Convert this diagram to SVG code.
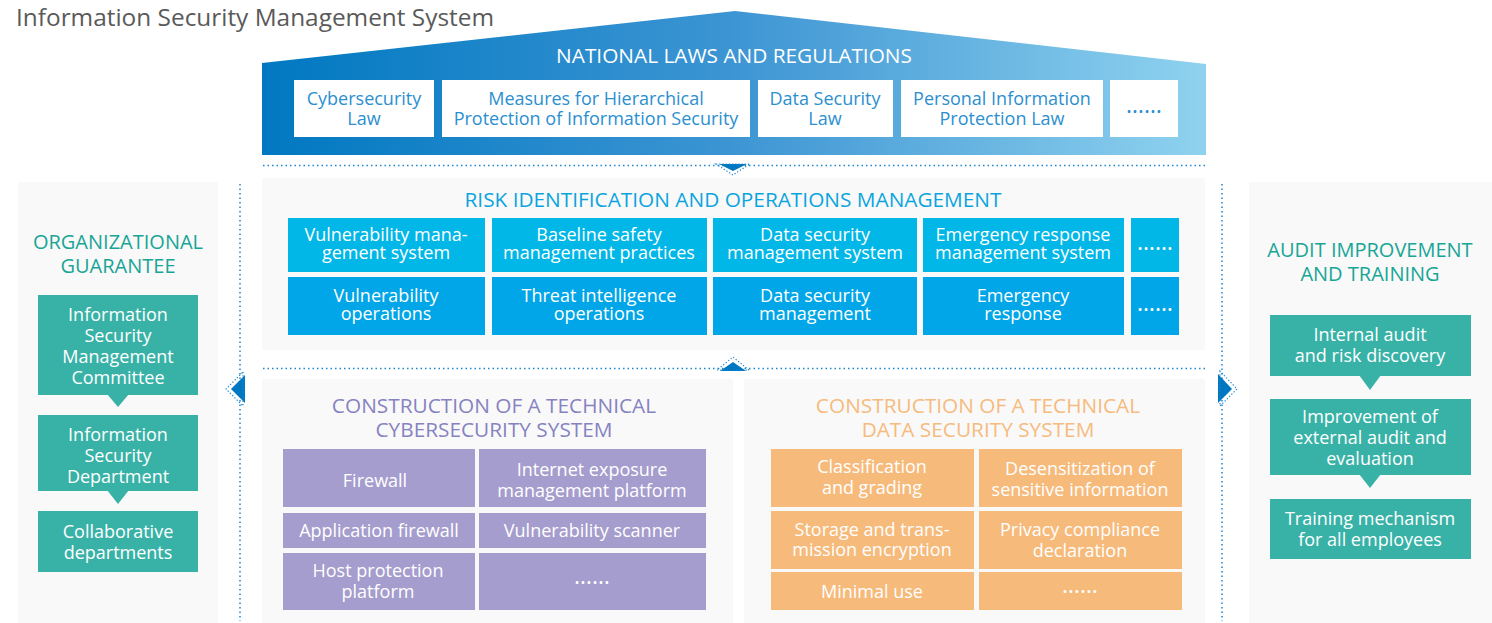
<svg xmlns="http://www.w3.org/2000/svg" width="1492" height="623" viewBox="0 0 1492 623">
  <defs>
    <linearGradient id="roofGrad" gradientUnits="userSpaceOnUse" x1="262" y1="0" x2="1206" y2="0">
      <stop offset="0" stop-color="#0078c1"/>
      <stop offset="0.5" stop-color="#3d95d3"/>
      <stop offset="1" stop-color="#8fd2ef"/>
    </linearGradient>
    <style>
      text { font-family: "Open Sans", "Noto Sans", "Liberation Sans", sans-serif; text-anchor: middle; }
      .title { font-size: 24.4px; fill: #5a5a5a; text-anchor: start; }
      .head { font-size: 20.8px; }
      .law { fill: #ffffff; }
      .lawtxt { font-size: 18px; fill: #2b8fd0; }
      .panel { fill: #f9f9f9; }
      .risk1 { fill: #00b7e7; }
      .risk2 { fill: #00a6e7; }
      .wt { font-size: 18px; fill: #ffffff; }
      .more { font-size: 23px; }
      .teal { fill: #38b2a7; }
      .tealhead { font-size: 20px; fill: #17a596; }
      .purple { fill: #a59dcd; }
      .orange { fill: #f6ba7b; }
      .dots { fill: none; stroke: #1a86cf; stroke-width: 1.5; stroke-dasharray: 1.5 3; }
      .arrow { fill: #0078c1; }
      .arrowdots { fill: none; stroke: #1a86cf; stroke-width: 1.2; stroke-dasharray: 1.2 2; }
    </style>
  </defs>

  <rect width="1492" height="623" fill="#ffffff"/>

  <text class="title" x="16" y="26">Information Security Management System</text>

  <!-- National laws roof -->
  <g id="national-laws">
    <polygon points="262,63 735,11 1206,64 1206,155 262,155" fill="url(#roofGrad)"/>
    <text class="head" x="734" y="63" fill="#ffffff">NATIONAL LAWS AND REGULATIONS</text>
    <g id="law-cybersecurity">
      <rect class="law" x="294" y="80" width="140" height="57"/>
      <text class="lawtxt"><tspan x="364" y="105">Cybersecurity</tspan><tspan x="364" dy="20">Law</tspan></text>
    </g>
    <g id="law-hierarchical">
      <rect class="law" x="442" y="80" width="308" height="57"/>
      <text class="lawtxt"><tspan x="596" y="105">Measures for Hierarchical</tspan><tspan x="596" dy="20">Protection of Information Security</tspan></text>
    </g>
    <g id="law-data-security">
      <rect class="law" x="758" y="80" width="135" height="57"/>
      <text class="lawtxt"><tspan x="825" y="105">Data Security</tspan><tspan x="825" dy="20">Law</tspan></text>
    </g>
    <g id="law-personal-info">
      <rect class="law" x="901" y="80" width="202" height="57"/>
      <text class="lawtxt"><tspan x="1002" y="105">Personal Information</tspan><tspan x="1002" dy="20">Protection Law</tspan></text>
    </g>
    <g id="law-more">
      <rect class="law" x="1110" y="80" width="68" height="57"/>
      <text class="lawtxt more" x="1144" y="113">……</text>
    </g>
  </g>

  <!-- Risk identification panel -->
  <g id="risk-management">
    <rect class="panel" x="262" y="178" width="943" height="172"/>
    <text class="head" x="733" y="207" fill="#0aa5de">RISK IDENTIFICATION AND OPERATIONS MANAGEMENT</text>
    <g id="risk-vuln-system">
      <rect class="risk1" x="288" y="218" width="197" height="54"/>
      <text class="wt"><tspan x="386" y="241">Vulnerability mana-</tspan><tspan x="386" dy="18">gement system</tspan></text>
    </g>
    <g id="risk-baseline">
      <rect class="risk1" x="492" y="218" width="215" height="54"/>
      <text class="wt"><tspan x="599" y="241">Baseline safety</tspan><tspan x="599" dy="18">management practices</tspan></text>
    </g>
    <g id="risk-data-system">
      <rect class="risk1" x="713" y="218" width="204" height="54"/>
      <text class="wt"><tspan x="815" y="241">Data security</tspan><tspan x="815" dy="18">management system</tspan></text>
    </g>
    <g id="risk-emergency-system">
      <rect class="risk1" x="923" y="218" width="201" height="54"/>
      <text class="wt"><tspan x="1023" y="241">Emergency response</tspan><tspan x="1023" dy="18">management system</tspan></text>
    </g>
    <g id="risk-more-1">
      <rect class="risk1" x="1131" y="218" width="48" height="54"/>
      <text class="wt more" x="1155" y="250">……</text>
    </g>
    <g id="risk-vuln-ops">
      <rect class="risk2" x="288" y="277" width="197" height="58"/>
      <text class="wt"><tspan x="386" y="302">Vulnerability</tspan><tspan x="386" dy="18">operations</tspan></text>
    </g>
    <g id="risk-threat-intel">
      <rect class="risk2" x="492" y="277" width="215" height="58"/>
      <text class="wt"><tspan x="599" y="302">Threat intelligence</tspan><tspan x="599" dy="18">operations</tspan></text>
    </g>
    <g id="risk-data-mgmt">
      <rect class="risk2" x="713" y="277" width="204" height="58"/>
      <text class="wt"><tspan x="815" y="302">Data security</tspan><tspan x="815" dy="18">management</tspan></text>
    </g>
    <g id="risk-emergency">
      <rect class="risk2" x="923" y="277" width="201" height="58"/>
      <text class="wt"><tspan x="1023" y="302">Emergency</tspan><tspan x="1023" dy="18">response</tspan></text>
    </g>
    <g id="risk-more-2">
      <rect class="risk2" x="1131" y="277" width="48" height="58"/>
      <text class="wt more" x="1155" y="311">……</text>
    </g>
  </g>

  <!-- Organizational guarantee -->
  <g id="org-guarantee">
    <rect class="panel" x="18" y="182" width="200" height="441"/>
    <text class="tealhead"><tspan x="118" y="249">ORGANIZATIONAL</tspan><tspan x="118" dy="24">GUARANTEE</tspan></text>
    <g id="org-committee">
      <rect class="teal" x="38" y="295" width="160" height="100"/>
      <polygon class="teal" points="107,394 129,394 118,407"/>
      <text class="wt"><tspan x="118" y="321">Information</tspan><tspan x="118" dy="21">Security</tspan><tspan x="118" dy="21">Management</tspan><tspan x="118" dy="21">Committee</tspan></text>
    </g>
    <g id="org-department">
      <rect class="teal" x="38" y="415" width="160" height="76"/>
      <polygon class="teal" points="107,490 129,490 118,504"/>
      <text class="wt"><tspan x="118" y="441">Information</tspan><tspan x="118" dy="21">Security</tspan><tspan x="118" dy="21">Department</tspan></text>
    </g>
    <g id="org-collaborative">
      <rect class="teal" x="38" y="511" width="160" height="61"/>
      <text class="wt"><tspan x="118" y="538">Collaborative</tspan><tspan x="118" dy="21">departments</tspan></text>
    </g>
  </g>

  <!-- Audit improvement and training -->
  <g id="audit-training">
    <rect class="panel" x="1249" y="182" width="243" height="441"/>
    <text class="tealhead"><tspan x="1370" y="257">AUDIT IMPROVEMENT</tspan><tspan x="1370" dy="24">AND TRAINING</tspan></text>
    <g id="audit-internal">
      <rect class="teal" x="1270" y="315" width="201" height="61"/>
      <polygon class="teal" points="1359,375 1381,375 1370,390"/>
      <text class="wt"><tspan x="1370" y="341">Internal audit</tspan><tspan x="1370" dy="21">and risk discovery</tspan></text>
    </g>
    <g id="audit-external">
      <rect class="teal" x="1270" y="399" width="201" height="76"/>
      <polygon class="teal" points="1359,474 1381,474 1370,488"/>
      <text class="wt"><tspan x="1370" y="423">Improvement of</tspan><tspan x="1370" dy="21">external audit and</tspan><tspan x="1370" dy="21">evaluation</tspan></text>
    </g>
    <g id="audit-training-mech">
      <rect class="teal" x="1270" y="499" width="201" height="60"/>
      <text class="wt"><tspan x="1370" y="525">Training mechanism</tspan><tspan x="1370" dy="21">for all employees</tspan></text>
    </g>
  </g>

  <!-- Technical cybersecurity system -->
  <g id="cyber-system">
    <rect class="panel" x="262" y="379" width="471" height="244"/>
    <text class="head" fill="#8683c1"><tspan x="494" y="413">CONSTRUCTION OF A TECHNICAL</tspan><tspan x="494" dy="24">CYBERSECURITY SYSTEM</tspan></text>
    <g id="cyber-firewall">
      <rect class="purple" x="283" y="449" width="192" height="58"/>
      <text class="wt" x="375" y="487">Firewall</text>
    </g>
    <g id="cyber-exposure">
      <rect class="purple" x="479" y="449" width="227" height="58"/>
      <text class="wt"><tspan x="592" y="476">Internet exposure</tspan><tspan x="592" dy="21">management platform</tspan></text>
    </g>
    <g id="cyber-app-firewall">
      <rect class="purple" x="283" y="513" width="192" height="35"/>
      <text class="wt" x="379" y="537">Application firewall</text>
    </g>
    <g id="cyber-scanner">
      <rect class="purple" x="479" y="513" width="227" height="35"/>
      <text class="wt" x="592" y="537">Vulnerability scanner</text>
    </g>
    <g id="cyber-host">
      <rect class="purple" x="283" y="553" width="192" height="57"/>
      <text class="wt"><tspan x="378" y="577">Host protection</tspan><tspan x="378" dy="21">platform</tspan></text>
    </g>
    <g id="cyber-more">
      <rect class="purple" x="479" y="553" width="227" height="57"/>
      <text class="wt more" x="592" y="584">……</text>
    </g>
  </g>

  <!-- Technical data security system -->
  <g id="data-system">
    <rect class="panel" x="744" y="379" width="461" height="244"/>
    <text class="head" fill="#f6bb7e"><tspan x="978" y="413">CONSTRUCTION OF A TECHNICAL</tspan><tspan x="978" dy="24">DATA SECURITY SYSTEM</tspan></text>
    <g id="data-classification">
      <rect class="orange" x="771" y="449" width="203" height="58"/>
      <text class="wt"><tspan x="872" y="473">Classification</tspan><tspan x="872" dy="21">and grading</tspan></text>
    </g>
    <g id="data-desensitization">
      <rect class="orange" x="979" y="449" width="203" height="58"/>
      <text class="wt"><tspan x="1080" y="475">Desensitization of</tspan><tspan x="1080" dy="21">sensitive information</tspan></text>
    </g>
    <g id="data-encryption">
      <rect class="orange" x="771" y="511" width="203" height="58"/>
      <text class="wt"><tspan x="872" y="536">Storage and trans-</tspan><tspan x="872" dy="20">mission encryption</tspan></text>
    </g>
    <g id="data-privacy">
      <rect class="orange" x="979" y="511" width="203" height="58"/>
      <text class="wt"><tspan x="1080" y="536">Privacy compliance</tspan><tspan x="1080" dy="21">declaration</tspan></text>
    </g>
    <g id="data-minimal">
      <rect class="orange" x="771" y="572" width="203" height="38"/>
      <text class="wt" x="872" y="598">Minimal use</text>
    </g>
    <g id="data-more">
      <rect class="orange" x="979" y="572" width="203" height="38"/>
      <text class="wt more" x="1080" y="593">……</text>
    </g>
  </g>

  <!-- Connectors: dotted guide lines with arrowheads -->
  <g id="connectors">
    <line class="dots" x1="263" y1="165.5" x2="1205" y2="165.5"/>
    <line class="dots" x1="263" y1="368.5" x2="1205" y2="368.5"/>
    <line class="dots" x1="240" y1="184" x2="240" y2="621"/>
    <line class="dots" x1="1222" y1="184" x2="1222" y2="621"/>

    <!-- down arrow under the laws -->
    <polygon class="arrow" points="719,164 747,164 733,171"/>
    <polygon class="arrowdots" points="716,164 750,164 733,175"/>
    <!-- up arrow into the risk panel -->
    <polygon class="arrow" points="720,371 746,371 733,362"/>
    <polygon class="arrowdots" points="717,370 749,370 733,357"/>
    <!-- left arrow towards the organizational guarantee -->
    <polygon class="arrow" points="245,375 245,403 231,389"/>
    <polygon class="arrowdots" points="243,372 243,406 226,389"/>
    <!-- right arrow towards audit and training -->
    <polygon class="arrow" points="1218,374 1218,403 1232,389"/>
    <polygon class="arrowdots" points="1220,371 1220,406 1237,389"/>
  </g>
</svg>
